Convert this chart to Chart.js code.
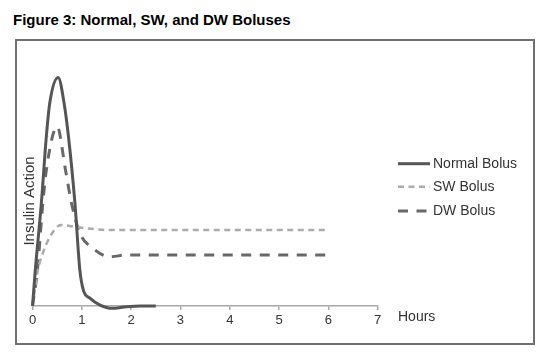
<!DOCTYPE html>
<html>
<head>
<meta charset="utf-8">
<script src="https://cdn.jsdelivr.net/npm/chart.js@4.4.1/dist/chart.umd.min.js"></script>
<style>
  html, body { margin: 0; padding: 0; background: #fff; width: 552px; height: 361px; overflow: hidden; }
  #title { position: absolute; left: 13px; top: 11px; font: bold 15px "Liberation Sans", Arial, sans-serif; color: #000; white-space: nowrap; }
  #box { position: absolute; left: 15px; top: 39px; width: 520px; height: 306px; box-sizing: border-box; border: 2px solid #707070; }
  #c { position: absolute; left: 0; top: 0; }
</style>
</head>
<body>
<div id="title">Figure 3: Normal, SW, and DW Boluses</div>
<div id="box"><canvas id="c" width="516" height="302"></canvas></div>
<script>
// ---- data (hours, relative insulin action) ----
const seriesNames = ["Normal Bolus", "SW Bolus", "DW Bolus"];
const xTicks = [0, 1, 2, 3, 4, 5, 6, 7];
const yTitle = "Insulin Action";
const xTitle = "Hours";

const normalHours = [0, 0.057, 0.18, 0.28, 0.35, 0.52, 0.64, 0.73, 0.86, 0.96, 1.03, 1.17, 1.37, 1.61, 1.91, 2.2, 2.5];
const normalValues = [0, 15.7, 44.8, 73.6, 88.3, 99.4, 88.3, 73.6, 44.8, 15.7, 7, 3.3, 0.4, -1, -0.3, 0, 0];

const swHours = [0, 0.11, 0.21, 0.35, 0.58, 1.0, 1.6, 3, 4.5, 6];
const swValues = [0, 15.7, 23, 30, 35.2, 34, 33, 33, 33, 33];

const dwHours = [0, 0.1, 0.21, 0.28, 0.5, 0.67, 0.79, 0.96, 1.23, 1.57, 1.91, 3, 4.5, 6];
const dwValues = [0, 15.7, 44.8, 59, 78, 59, 44.8, 31.7, 25, 21.4, 22.2, 22.2, 22.2, 22.2];

const toPts = (xs, ys) => xs.map((x, i) => ({ x: x, y: ys[i] }));

const FONT = '"Liberation Sans", Arial, sans-serif';

const extraText = {
  id: 'extraText',
  afterDraw(chart) {
    const ctx = chart.ctx;
    ctx.save();
    ctx.fillStyle = '#333';
    ctx.font = '15px ' + FONT;
    ctx.textAlign = 'center';
    ctx.textBaseline = 'middle';
    ctx.translate(13, 160);
    ctx.rotate(-Math.PI / 2);
    ctx.fillText(yTitle, 0, 0);
    ctx.restore();

    ctx.save();
    ctx.fillStyle = '#333';
    ctx.font = '14px ' + FONT;
    ctx.textAlign = 'left';
    ctx.textBaseline = 'middle';
    ctx.fillText(xTitle, 381, 276);

    const ys = [122.7, 145.7, 170];
    chart.data.datasets.forEach((ds, i) => {
      ctx.beginPath();
      ctx.setLineDash(ds.borderDash || []);
      ctx.strokeStyle = ds.borderColor;
      ctx.lineWidth = ds.borderWidth;
      ctx.moveTo(381, ys[i]);
      ctx.lineTo(413, ys[i]);
      ctx.stroke();
      ctx.setLineDash([]);
      ctx.fillStyle = '#333';
      ctx.fillText(ds.label, 416, ys[i] + 0.5);
    });
    ctx.restore();
  }
};

new Chart(document.getElementById('c'), {
  type: 'line',
  data: {
    datasets: [
      { label: seriesNames[0], data: toPts(normalHours, normalValues), borderColor: '#555555', borderWidth: 3, borderDash: [] },
      { label: seriesNames[1], data: toPts(swHours, swValues), borderColor: '#ababab', borderWidth: 2.5, borderDash: [6, 4.5] },
      { label: seriesNames[2], data: toPts(dwHours, dwValues), borderColor: '#686868', borderWidth: 3, borderDash: [10, 8.5] }
    ]
  },
  options: {
    responsive: false,
    animation: false,
    clip: false,
    elements: {
      point: { radius: 0, hoverRadius: 0 },
      line: { tension: 0.4, cubicInterpolationMode: 'monotone', fill: false, borderCapStyle: 'butt' }
    },
    layout: { padding: { left: 15.5, top: 12, right: 155.3, bottom: 0 } },
    plugins: { legend: { display: false }, tooltip: { enabled: false }, title: { display: false } },
    scales: {
      x: {
        type: 'linear',
        min: 0, max: 7,
        afterBuildTicks(scale) { scale.ticks = xTicks.map(v => ({ value: v })); },
        afterFit(scale) { scale.height = 37; },
        ticks: { color: '#333', font: { family: FONT, size: 13 }, padding: 3, maxRotation: 0, autoSkip: false },
        grid: { display: true, drawOnChartArea: false, drawTicks: true, tickLength: 4, color: '#a8a8a8', lineWidth: 1.5 },
        border: { display: true, color: '#a8a8a8', width: 1.5 }
      },
      y: { type: 'linear', display: false, min: 0, max: 110 }
    }
  },
  plugins: [extraText]
});
</script>
</body>
</html>
